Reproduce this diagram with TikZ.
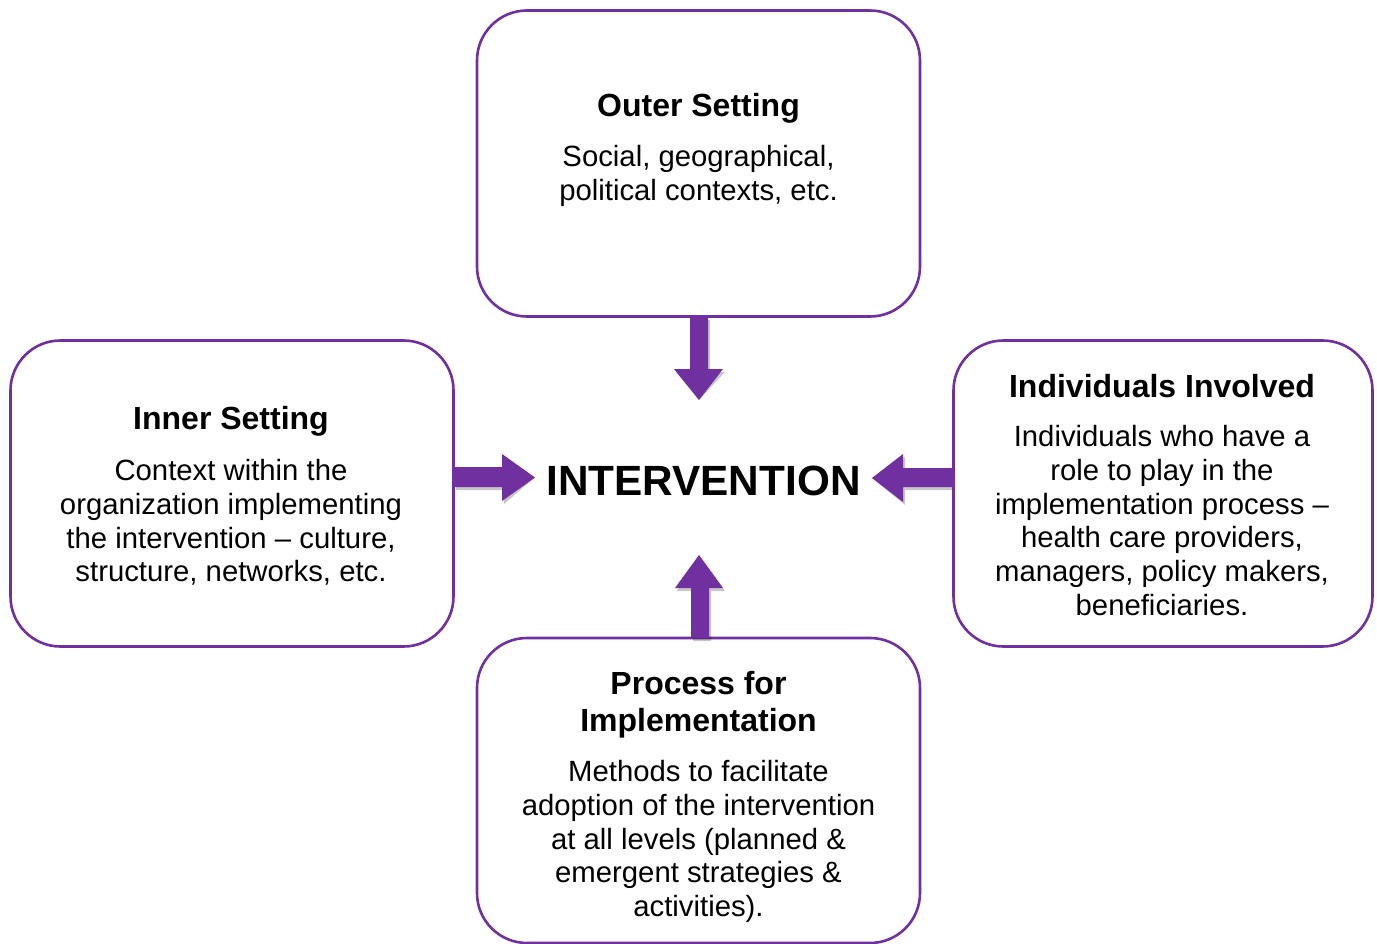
\documentclass[tikz,border=0pt]{standalone}
\usepackage{fontspec}
\setmainfont{Liberation Sans}
\usetikzlibrary{calc}
\definecolor{cfpurple}{HTML}{7030A0}
\tikzset{
  box/.style={draw=cfpurple, line width=2.6pt, rounded corners=50pt, fill=white, inner sep=0pt, outer sep=0pt},
  ttl/.style={font=\fontsize{32}{37}\bfseries\selectfont, align=center, inner sep=0pt},
  body/.style={font=\fontsize{29.3}{33.8}\selectfont, align=center, inner sep=0pt},
  blk/.style={fill=cfpurple, draw=none},
  shd/.style={fill=black, opacity=0.22, draw=none},
}
\begin{document}
\begin{tikzpicture}[x=1pt, y=-1pt]
\useasboundingbox (0,0) rectangle (1377,944);
\fill[white] (0,0) rectangle (1377,944);
% boxes
\node[box, minimum width=443pt, minimum height=306pt] (outer) at (698.5,163.5) {};
\node[box, minimum width=443pt, minimum height=306pt] (inner) at (232,493.5) {};
\node[box, minimum width=419pt, minimum height=306pt] (indiv) at (1163,493.5) {};
\node[box, minimum width=443pt, minimum height=305pt] (proc) at (698.5,790.5) {};
% coordinates for arrows
\coordinate (dtip) at (699,400);
\coordinate (rtip) at (535,477.5);
\coordinate (ltip) at (872,478);
\coordinate (utip) at (699,555);
% shadows
\begin{scope}[shift={(2,3)}]
\fill[shd] (690,317) -- (708,317) -- (708,369) -- (723,369) -- (dtip) -- (674,369) -- (690,369) -- cycle;
\fill[shd] (454,467) -- (502,467) -- (502,454) -- (rtip) -- (502,501) -- (502,487) -- (454,487) -- cycle;
\fill[shd] (953,468) -- (903,468) -- (903,454) -- (ltip) -- (903,502) -- (903,487) -- (953,487) -- cycle;
\fill[shd] (691,638) -- (691,588) -- (675,588) -- (utip) -- (723,588) -- (709,588) -- (709,638) -- cycle;
\end{scope}
% arrows
\fill[blk] (outer.south -| 690,0) -- (outer.south -| 708,0) -- (708,369) -- (723,369) -- (dtip) -- (674,369) -- (690,369) -- cycle;
\fill[blk] (inner.east |- 0,467) -- (502,467) -- (502,454) -- (rtip) -- (502,501) -- (502,487) -- (inner.east |- 0,487) -- cycle;
\fill[blk] (indiv.west |- 0,468) -- (903,468) -- (903,454) -- (ltip) -- (903,502) -- (903,487) -- (indiv.west |- 0,487) -- cycle;
\fill[blk] (proc.north -| 691,0) -- (691,588) -- (675,588) -- (utip) -- (723,588) -- (709,588) -- (proc.north -| 709,0) -- cycle;
\draw[cfpurple, line width=2.6pt] (inner.east) ++(0,-60) -- ++(0,120);
\draw[cfpurple, line width=2.6pt] (indiv.west) ++(0,-60) -- ++(0,120);
% texts
\node[font=\fontsize{42.3}{48}\bfseries\selectfont, inner sep=0pt] (interv) at (703.5,481) {INTERVENTION};
\node[ttl] (outerT) at (698.5,108) {Outer Setting};
\node[body] (outerB) at (698.5,176) {Social, geographical,\\political contexts, etc.};
\node[ttl] (innerT) at (231,421) {Inner Setting};
\node[body] (innerB) at (231,522.5) {Context within the\\organization implementing\\the intervention -- culture,\\structure, networks, etc.};
\node[ttl] (indivT) at (1162,386) {Individuals Involved};
\node[body] (indivB) at (1162,520.5) {Individuals who have a\\role to play in the\\implementation process --\\health care providers,\\managers, policy makers,\\beneficiaries.};
\node[ttl] (procT) at (698.5,704.5) {Process for\\Implementation};
\node[body] (procB) at (698.5,841.5) {Methods to facilitate\\adoption of the intervention\\at all levels (planned \&\\emergent strategies \&\\activities).};
\end{tikzpicture}
\end{document}
